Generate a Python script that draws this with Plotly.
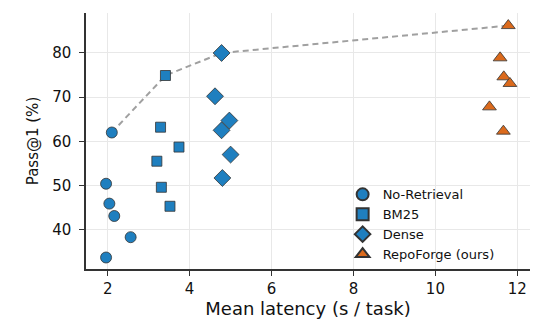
import plotly.graph_objects as go

nr_x = [2.10, 1.96, 2.04, 2.16, 2.56, 1.96]
nr_y = [62.0, 50.4, 45.9, 43.1, 38.3, 33.7]
bm_x = [3.41, 3.29, 3.74, 3.20, 3.31, 3.52]
bm_y = [74.9, 63.2, 58.7, 55.5, 49.6, 45.3]
de_x = [4.78, 4.62, 4.97, 4.78, 5.00, 4.80]
de_y = [80.0, 70.2, 64.7, 62.5, 57.0, 51.7]
rf_x = [11.78, 11.58, 11.67, 11.82, 11.32, 11.66]
rf_y = [86.2, 78.9, 74.6, 73.1, 67.8, 62.3]
front_x = [2.10, 3.41, 4.78, 11.78]
front_y = [62.0, 74.9, 80.0, 86.2]
x_ticks = [2, 4, 6, 8, 10, 12]
y_ticks = [40, 50, 60, 70, 80]

BLUE = "#1f7fbf"
ORANGE = "#db6a1c"
FONT = "DejaVu Sans"

fig = go.Figure()
fig.add_trace(go.Scatter(x=front_x, y=front_y, mode="lines",
                         line=dict(color="#a0a0a0", width=2, dash="6px,4px"),
                         showlegend=False, hoverinfo="skip"))
series = [("No-Retrieval", nr_x, nr_y, "circle", BLUE, 11),
          ("BM25", bm_x, bm_y, "square", BLUE, 10),
          ("Dense", de_x, de_y, "diamond", BLUE, 13),
          ("RepoForge (ours)", rf_x, rf_y, "triangle-up", ORANGE, 12)]
for name, xs, ys, sym, col, sz in series:
    fig.add_trace(go.Scatter(x=xs, y=ys, mode="markers", name=name,
                             marker=dict(symbol=sym, color=col, size=sz,
                                         line=dict(color="#333333", width=0.8))))

fig.update_layout(
    width=533, height=320,
    margin=dict(l=86, r=3, t=13, b=51, autoexpand=False),
    paper_bgcolor="white", plot_bgcolor="white",
    font=dict(family=FONT, size=14, color="#111111"),
    legend=dict(x=0.578, y=0.35, xanchor="left", yanchor="top",
                bgcolor="rgba(255,255,255,0)", font=dict(size=13, family=FONT),
                itemsizing="constant", tracegroupgap=0),
)
fig.update_xaxes(range=[1.47, 12.31], tickvals=x_ticks, showgrid=True,
                 gridcolor="#e8e8e8", gridwidth=1, zeroline=False, automargin=False,
                 showline=True, linecolor="#333333", linewidth=1.5,
                 ticks="outside", ticklen=5, tickcolor="#333333",
                 title=dict(text="Mean latency (s / task)", font=dict(size=18), standoff=2),
                 tickfont=dict(size=15))
fig.update_yaxes(range=[31.1, 89.05], tickvals=y_ticks, showgrid=True,
                 gridcolor="#e8e8e8", gridwidth=1, zeroline=False, automargin=False,
                 showline=True, linecolor="#333333", linewidth=1.5,
                 ticks="outside", ticklen=5, tickcolor="#333333",
                 ticklabelstandoff=5,
                 title=dict(text="Pass@1 (%)", font=dict(size=15), standoff=10),
                 tickfont=dict(size=15))

fig.write_html("out.html", config={"displayModeBar": False},
               post_script="document.body.style.margin='0';")
